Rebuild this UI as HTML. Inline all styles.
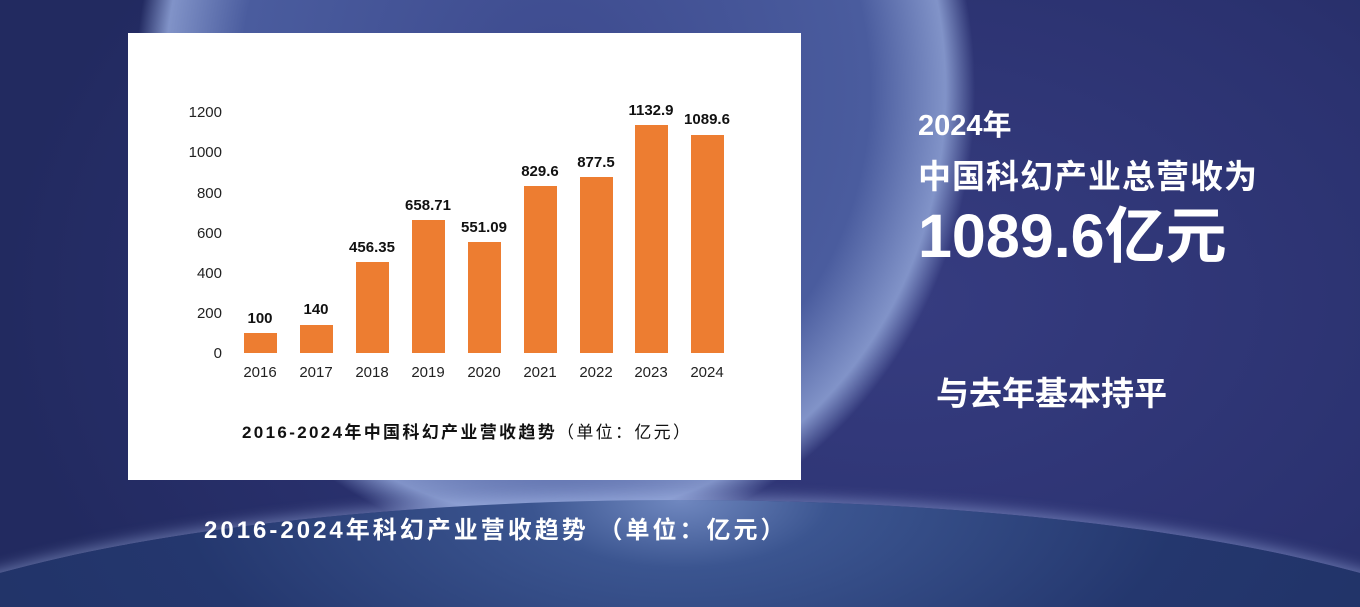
<!DOCTYPE html>
<html style="overflow:hidden;width:1360px;height:607px"><head><meta charset="utf-8"><style>
body{margin:0;width:1360px;height:607px;overflow:hidden;position:relative;background:#2b3370;font-family:"Liberation Sans","Noto Sans CJK SC",sans-serif}
.bg{position:absolute;left:0;top:0;width:1360px;height:607px;background:
radial-gradient(ellipse 420px 460px at 555px 90px,#3d4a8e 0%,#4a5c9e 75%,#8193c8 93%,rgba(60,70,140,0) 100%),
radial-gradient(ellipse 900px 600px at 900px 300px,#363c80 0%,#2b3270 60%,#222a60 100%);}
.hz{position:absolute;left:-200px;top:500px;width:1760px;height:400px;border-radius:50%;background:radial-gradient(ellipse at 50% 0%,#7088c0 0%,#3b5590 12%,#24376e 40%,#1c2b5c 100%);box-shadow:0 -4px 14px rgba(170,190,240,.45)}
.clip{position:absolute;left:0;top:0;width:1360px;height:607px;overflow:hidden}
.card{position:absolute;left:128px;top:33px;width:673px;height:447px;background:#fff}
.w{position:absolute;color:#fff;white-space:nowrap}
</style></head><body>
<div class="clip"><div class="bg"></div><div class="hz"></div></div>
<div class="card"></div>
<svg style="position:absolute;left:0;top:0" width="1360" height="607" font-family="Liberation Sans, Noto Sans CJK SC, sans-serif">
<g font-size="15" fill="#222" text-anchor="end">
<text x="222" y="117">1200</text><text x="222" y="157">1000</text><text x="222" y="198">800</text><text x="222" y="238">600</text><text x="222" y="278">400</text><text x="222" y="318">200</text><text x="222" y="358">0</text>
</g>
<g fill="#ed7d31">
<rect x="244" y="333" width="33" height="20"/><rect x="300" y="325" width="33" height="28"/><rect x="356" y="262" width="33" height="91"/><rect x="412" y="220" width="33" height="133"/><rect x="468" y="242" width="33" height="111"/><rect x="524" y="186" width="33" height="167"/><rect x="580" y="177" width="33" height="176"/><rect x="635" y="125" width="33" height="228"/><rect x="691" y="135" width="33" height="218"/>
</g>
<g font-size="15" fill="#222" text-anchor="middle">
<text x="260" y="377">2016</text><text x="316" y="377">2017</text><text x="372" y="377">2018</text><text x="428" y="377">2019</text><text x="484" y="377">2020</text><text x="540" y="377">2021</text><text x="596" y="377">2022</text><text x="651" y="377">2023</text><text x="707" y="377">2024</text>
</g>
<g font-size="15" font-weight="bold" fill="#111" text-anchor="middle">
<text x="260" y="323">100</text><text x="316" y="314">140</text><text x="372" y="252">456.35</text><text x="428" y="210">658.71</text><text x="484" y="232">551.09</text><text x="540" y="176">829.6</text><text x="596" y="167">877.5</text><text x="651" y="115">1132.9</text><text x="707" y="124">1089.6</text>
</g>
<text x="242" y="438" font-size="17" fill="#111" textLength="448"><tspan font-weight="bold">2016-2024年中国科幻产业营收趋势</tspan>（单位：亿元）</text>
</svg>
<div class="w" style="left:918px;top:102px;font-size:29px;font-weight:bold">2024年</div>
<div class="w" style="left:918px;top:150px;font-size:33px;font-weight:bold;letter-spacing:1px">中国科幻产业总营收为</div>
<div class="w" style="left:918px;top:200px;font-size:61px;font-weight:bold;line-height:72px">1089.6亿元</div>
<div class="w" style="left:936px;top:367px;font-size:33px;font-weight:bold">与去年基本持平</div>
<div class="w" style="left:204px;top:510px;font-size:24px;font-weight:bold;letter-spacing:3px">2016-2024年科幻产业营收趋势 （单位：亿元）</div>
</body></html>
